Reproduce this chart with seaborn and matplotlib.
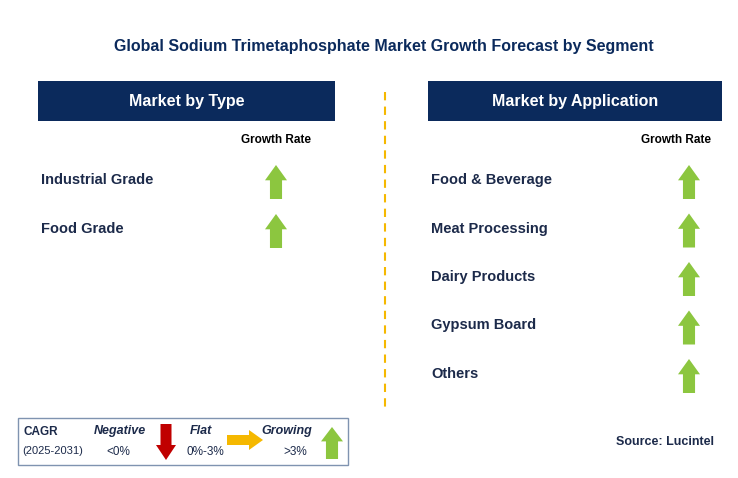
import matplotlib
matplotlib.use("Agg")
import matplotlib.pyplot as plt
import seaborn as sns
from matplotlib.patches import Rectangle, FancyArrow

sns.set_theme(style="white")
plt.rcParams["font.family"] = "Liberation Sans"

title = "Global Sodium Trimetaphosphate Market Growth Forecast by Segment"
type_segments = ["Industrial Grade", "Food Grade"]
type_growth = ["up", "up"]
app_segments = ["Food & Beverage", "Meat Processing", "Dairy Products", "Gypsum Board", "Others"]
app_growth = ["up", "up", "up", "up", "up"]

NAVY = "#0b2a5c"
TXT = "#1c2a4a"
GREEN = "#8cc63f"

fig = plt.figure(figsize=(7.38, 4.78), dpi=100)
ax = fig.add_axes([0, 0, 1, 1])
ax.set_xlim(0, 738); ax.set_ylim(478, 0); ax.axis("off")

def up_arrow(x, yc, color=GREEN, h=34, w=22):
    ax.add_patch(FancyArrow(x, yc + h/2, 0, -h, width=w*0.55, head_width=w,
                            head_length=h*0.45, length_includes_head=True,
                            color=color, lw=0))

ax.text(384, 46, title, ha="center", va="center", fontsize=11.5, fontweight="bold", color=NAVY)

def panel(x0, x1, header, segs, growth, arrow_x, gr_x):
    ax.add_patch(Rectangle((x0, 81), x1 - x0, 40, color=NAVY, lw=0))
    ax.text((x0 + x1)/2, 101, header, ha="center", va="center", fontsize=11.5,
            color="white", fontweight="bold")
    ax.text(gr_x, 140, "Growth Rate", ha="center", va="center", fontsize=8.5,
            fontweight="bold", color="black")
    for i, (s, g) in enumerate(zip(segs, growth)):
        y = 180 + 49 * i if len(segs) == 2 else 180 + 48.5 * i
        ax.text(x0 + 3, y, s, ha="left", va="center", fontsize=10.5, fontweight="bold", color=TXT)
        if g == "up":
            up_arrow(arrow_x, y + 2)

panel(38, 335, "Market by Type", type_segments, type_growth, 276, 276)
panel(428, 722, "Market by Application", app_segments, app_growth, 689, 676)

ax.plot([385, 385], [92, 410], ls=(0, (4, 3)), color="#f5b800", lw=1.5)

# legend box
ax.add_patch(Rectangle((18, 418), 330, 47, fill=False, ec="#7f93b0", lw=1))
ax.text(24, 432, "CAGR", fontsize=8.5, fontweight="bold", color=TXT, va="center")
ax.text(22, 451, "(2025-2031)", fontsize=8, color=TXT, va="center")
ax.text(120, 431, "Negative", fontsize=9, fontweight="bold", style="italic", color=TXT, ha="center", va="center")
ax.text(118, 452, "<0%", fontsize=8.5, color=TXT, ha="center", va="center")
ax.add_patch(FancyArrow(166, 424, 0, 36, width=11, head_width=20, head_length=15,
                        length_includes_head=True, color="#c00000", lw=0))
ax.text(201, 431, "Flat", fontsize=9, fontweight="bold", style="italic", color=TXT, ha="center", va="center")
ax.text(205, 452, "0%-3%", fontsize=8.5, color=TXT, ha="center", va="center")
ax.add_patch(FancyArrow(227, 440, 36, 0, width=10, head_width=20, head_length=14,
                        length_includes_head=True, color="#f5b800", lw=0))
ax.text(287, 431, "Growing", fontsize=9, fontweight="bold", style="italic", color=TXT, ha="center", va="center")
ax.text(295, 452, ">3%", fontsize=8.5, color=TXT, ha="center", va="center")
up_arrow(332, 443, h=32, w=22)

ax.text(714, 442, "Source: Lucintel", ha="right", va="center", fontsize=9, fontweight="bold", color=TXT)

fig.savefig("out.png", dpi=100)
